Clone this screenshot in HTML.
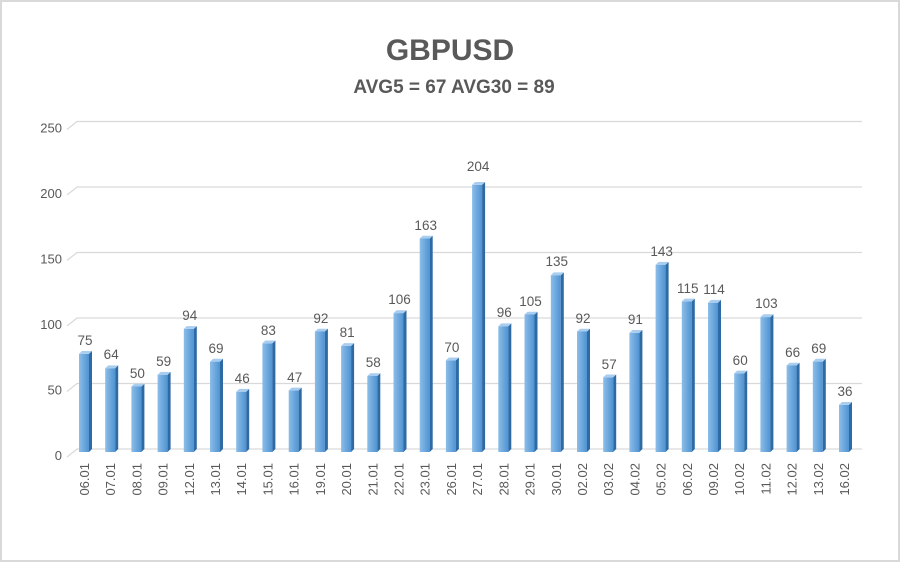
<!DOCTYPE html>
<html><head><meta charset="utf-8"><style>
html,body{margin:0;padding:0;background:#fff}
svg{display:block}
text{font-family:"Liberation Sans",sans-serif;fill:#595959}
</style></head><body>
<svg width="900" height="562" viewBox="0 0 900 562" xmlns="http://www.w3.org/2000/svg">
<defs>
<linearGradient id="fr" x1="0" x2="1" y1="0" y2="0">
<stop offset="0" stop-color="#8cbde8"/><stop offset="1" stop-color="#4f93d2"/>
</linearGradient>
</defs>
<rect x="1" y="1" width="898" height="560" fill="#fff" stroke="#d9d9d9" stroke-width="2"/>
<text x="450" y="60" text-anchor="middle" font-size="30" font-weight="bold">GBPUSD</text>
<text x="454" y="93" text-anchor="middle" font-size="19" font-weight="bold">AVG5 = 67 AVG30 = 89</text>
<g stroke="#d9d9d9" stroke-width="1.2" fill="none">
<path d="M67 457 L77 449 H862"/>
<path d="M67 391.5 L77 383.5 H862"/>
<path d="M67 326 L77 318 H862"/>
<path d="M67 260.5 L77 252.5 H862"/>
<path d="M67 195 L77 187 H862"/>
<path d="M67 129.5 L77 121.5 H862"/>
</g>
<g font-size="13" text-anchor="end">
<text x="62" y="460">0</text>
<text x="62" y="394.5">50</text>
<text x="62" y="329">100</text>
<text x="62" y="263.5">150</text>
<text x="62" y="198">200</text>
<text x="62" y="132.5">250</text>
</g>
<g id="bars"></g>
<g font-size="13.5" text-anchor="middle">
<g transform="translate(84,0)"><rect x="-5" y="353.8" width="10" height="98.2" fill="url(#fr)"/><polygon points="5,353.8 8,351 8,449 5,452" fill="#2e6aa3"/><polygon points="-5,353.8 -2,351 8,351 5,353.8" fill="#a9cdef"/><text x="1" y="345">75</text></g>
<g transform="translate(110.2,0)"><rect x="-5" y="368.2" width="10" height="83.8" fill="url(#fr)"/><polygon points="5,368.2 8,365.4 8,449 5,452" fill="#2e6aa3"/><polygon points="-5,368.2 -2,365.4 8,365.4 5,368.2" fill="#a9cdef"/><text x="1" y="359">64</text></g>
<g transform="translate(136.4,0)"><rect x="-5" y="386.5" width="10" height="65.5" fill="url(#fr)"/><polygon points="5,386.5 8,383.7 8,449 5,452" fill="#2e6aa3"/><polygon points="-5,386.5 -2,383.7 8,383.7 5,386.5" fill="#a9cdef"/><text x="1" y="378">50</text></g>
<g transform="translate(162.6,0)"><rect x="-5" y="374.7" width="10" height="77.3" fill="url(#fr)"/><polygon points="5,374.7 8,371.9 8,449 5,452" fill="#2e6aa3"/><polygon points="-5,374.7 -2,371.9 8,371.9 5,374.7" fill="#a9cdef"/><text x="1" y="366">59</text></g>
<g transform="translate(188.8,0)"><rect x="-5" y="328.9" width="10" height="123.1" fill="url(#fr)"/><polygon points="5,328.9 8,326.1 8,449 5,452" fill="#2e6aa3"/><polygon points="-5,328.9 -2,326.1 8,326.1 5,328.9" fill="#a9cdef"/><text x="1" y="320">94</text></g>
<g transform="translate(215,0)"><rect x="-5" y="361.6" width="10" height="90.4" fill="url(#fr)"/><polygon points="5,361.6 8,358.8 8,449 5,452" fill="#2e6aa3"/><polygon points="-5,361.6 -2,358.8 8,358.8 5,361.6" fill="#a9cdef"/><text x="1" y="353">69</text></g>
<g transform="translate(241.2,0)"><rect x="-5" y="391.7" width="10" height="60.3" fill="url(#fr)"/><polygon points="5,391.7 8,388.9 8,449 5,452" fill="#2e6aa3"/><polygon points="-5,391.7 -2,388.9 8,388.9 5,391.7" fill="#a9cdef"/><text x="1" y="383">46</text></g>
<g transform="translate(267.4,0)"><rect x="-5" y="343.3" width="10" height="108.7" fill="url(#fr)"/><polygon points="5,343.3 8,340.5 8,449 5,452" fill="#2e6aa3"/><polygon points="-5,343.3 -2,340.5 8,340.5 5,343.3" fill="#a9cdef"/><text x="1" y="335">83</text></g>
<g transform="translate(293.7,0)"><rect x="-5" y="390.4" width="10" height="61.6" fill="url(#fr)"/><polygon points="5,390.4 8,387.6 8,449 5,452" fill="#2e6aa3"/><polygon points="-5,390.4 -2,387.6 8,387.6 5,390.4" fill="#a9cdef"/><text x="1" y="382">47</text></g>
<g transform="translate(319.9,0)"><rect x="-5" y="331.5" width="10" height="120.5" fill="url(#fr)"/><polygon points="5,331.5 8,328.7 8,449 5,452" fill="#2e6aa3"/><polygon points="-5,331.5 -2,328.7 8,328.7 5,331.5" fill="#a9cdef"/><text x="1" y="323">92</text></g>
<g transform="translate(346.1,0)"><rect x="-5" y="345.9" width="10" height="106.1" fill="url(#fr)"/><polygon points="5,345.9 8,343.1 8,449 5,452" fill="#2e6aa3"/><polygon points="-5,345.9 -2,343.1 8,343.1 5,345.9" fill="#a9cdef"/><text x="1" y="337">81</text></g>
<g transform="translate(372.3,0)"><rect x="-5" y="376" width="10" height="76" fill="url(#fr)"/><polygon points="5,376 8,373.2 8,449 5,452" fill="#2e6aa3"/><polygon points="-5,376 -2,373.2 8,373.2 5,376" fill="#a9cdef"/><text x="1" y="367">58</text></g>
<g transform="translate(398.5,0)"><rect x="-5" y="313.1" width="10" height="138.9" fill="url(#fr)"/><polygon points="5,313.1 8,310.3 8,449 5,452" fill="#2e6aa3"/><polygon points="-5,313.1 -2,310.3 8,310.3 5,313.1" fill="#a9cdef"/><text x="1" y="304">106</text></g>
<g transform="translate(424.7,0)"><rect x="-5" y="238.5" width="10" height="213.5" fill="url(#fr)"/><polygon points="5,238.5 8,235.7 8,449 5,452" fill="#2e6aa3"/><polygon points="-5,238.5 -2,235.7 8,235.7 5,238.5" fill="#a9cdef"/><text x="1" y="230">163</text></g>
<g transform="translate(450.9,0)"><rect x="-5" y="360.3" width="10" height="91.7" fill="url(#fr)"/><polygon points="5,360.3 8,357.5 8,449 5,452" fill="#2e6aa3"/><polygon points="-5,360.3 -2,357.5 8,357.5 5,360.3" fill="#a9cdef"/><text x="1" y="352">70</text></g>
<g transform="translate(477.1,0)"><rect x="-5" y="184.8" width="10" height="267.2" fill="url(#fr)"/><polygon points="5,184.8 8,182 8,449 5,452" fill="#2e6aa3"/><polygon points="-5,184.8 -2,182 8,182 5,184.8" fill="#a9cdef"/><text x="1" y="171">204</text></g>
<g transform="translate(503.3,0)"><rect x="-5" y="326.2" width="10" height="125.8" fill="url(#fr)"/><polygon points="5,326.2 8,323.4 8,449 5,452" fill="#2e6aa3"/><polygon points="-5,326.2 -2,323.4 8,323.4 5,326.2" fill="#a9cdef"/><text x="1" y="317">96</text></g>
<g transform="translate(529.5,0)"><rect x="-5" y="314.5" width="10" height="137.5" fill="url(#fr)"/><polygon points="5,314.5 8,311.7 8,449 5,452" fill="#2e6aa3"/><polygon points="-5,314.5 -2,311.7 8,311.7 5,314.5" fill="#a9cdef"/><text x="1" y="306">105</text></g>
<g transform="translate(555.8,0)"><rect x="-5" y="275.2" width="10" height="176.8" fill="url(#fr)"/><polygon points="5,275.2 8,272.4 8,449 5,452" fill="#2e6aa3"/><polygon points="-5,275.2 -2,272.4 8,272.4 5,275.2" fill="#a9cdef"/><text x="1" y="266">135</text></g>
<g transform="translate(582,0)"><rect x="-5" y="331.5" width="10" height="120.5" fill="url(#fr)"/><polygon points="5,331.5 8,328.7 8,449 5,452" fill="#2e6aa3"/><polygon points="-5,331.5 -2,328.7 8,328.7 5,331.5" fill="#a9cdef"/><text x="1" y="323">92</text></g>
<g transform="translate(608.2,0)"><rect x="-5" y="377.3" width="10" height="74.7" fill="url(#fr)"/><polygon points="5,377.3 8,374.5 8,449 5,452" fill="#2e6aa3"/><polygon points="-5,377.3 -2,374.5 8,374.5 5,377.3" fill="#a9cdef"/><text x="1" y="369">57</text></g>
<g transform="translate(634.4,0)"><rect x="-5" y="332.8" width="10" height="119.2" fill="url(#fr)"/><polygon points="5,332.8 8,330 8,449 5,452" fill="#2e6aa3"/><polygon points="-5,332.8 -2,330 8,330 5,332.8" fill="#a9cdef"/><text x="1" y="324">91</text></g>
<g transform="translate(660.6,0)"><rect x="-5" y="264.7" width="10" height="187.3" fill="url(#fr)"/><polygon points="5,264.7 8,261.9 8,449 5,452" fill="#2e6aa3"/><polygon points="-5,264.7 -2,261.9 8,261.9 5,264.7" fill="#a9cdef"/><text x="1" y="256">143</text></g>
<g transform="translate(686.8,0)"><rect x="-5" y="301.4" width="10" height="150.6" fill="url(#fr)"/><polygon points="5,301.4 8,298.6 8,449 5,452" fill="#2e6aa3"/><polygon points="-5,301.4 -2,298.6 8,298.6 5,301.4" fill="#a9cdef"/><text x="1" y="293">115</text></g>
<g transform="translate(713,0)"><rect x="-5" y="302.7" width="10" height="149.3" fill="url(#fr)"/><polygon points="5,302.7 8,299.9 8,449 5,452" fill="#2e6aa3"/><polygon points="-5,302.7 -2,299.9 8,299.9 5,302.7" fill="#a9cdef"/><text x="1" y="294">114</text></g>
<g transform="translate(739.2,0)"><rect x="-5" y="373.4" width="10" height="78.6" fill="url(#fr)"/><polygon points="5,373.4 8,370.6 8,449 5,452" fill="#2e6aa3"/><polygon points="-5,373.4 -2,370.6 8,370.6 5,373.4" fill="#a9cdef"/><text x="1" y="365">60</text></g>
<g transform="translate(765.4,0)"><rect x="-5" y="317.1" width="10" height="134.9" fill="url(#fr)"/><polygon points="5,317.1 8,314.3 8,449 5,452" fill="#2e6aa3"/><polygon points="-5,317.1 -2,314.3 8,314.3 5,317.1" fill="#a9cdef"/><text x="1" y="308">103</text></g>
<g transform="translate(791.6,0)"><rect x="-5" y="365.5" width="10" height="86.5" fill="url(#fr)"/><polygon points="5,365.5 8,362.7 8,449 5,452" fill="#2e6aa3"/><polygon points="-5,365.5 -2,362.7 8,362.7 5,365.5" fill="#a9cdef"/><text x="1" y="357">66</text></g>
<g transform="translate(817.8,0)"><rect x="-5" y="361.6" width="10" height="90.4" fill="url(#fr)"/><polygon points="5,361.6 8,358.8 8,449 5,452" fill="#2e6aa3"/><polygon points="-5,361.6 -2,358.8 8,358.8 5,361.6" fill="#a9cdef"/><text x="1" y="353">69</text></g>
<g transform="translate(844,0)"><rect x="-5" y="404.8" width="10" height="47.2" fill="url(#fr)"/><polygon points="5,404.8 8,402 8,449 5,452" fill="#2e6aa3"/><polygon points="-5,404.8 -2,402 8,402 5,404.8" fill="#a9cdef"/><text x="1" y="396">36</text></g>
</g>
<g font-size="13" text-anchor="end">
<text transform="translate(89,463) rotate(-90)">06.01</text>
<text transform="translate(115.2,463) rotate(-90)">07.01</text>
<text transform="translate(141.4,463) rotate(-90)">08.01</text>
<text transform="translate(167.6,463) rotate(-90)">09.01</text>
<text transform="translate(193.8,463) rotate(-90)">12.01</text>
<text transform="translate(220,463) rotate(-90)">13.01</text>
<text transform="translate(246.2,463) rotate(-90)">14.01</text>
<text transform="translate(272.4,463) rotate(-90)">15.01</text>
<text transform="translate(298.7,463) rotate(-90)">16.01</text>
<text transform="translate(324.9,463) rotate(-90)">19.01</text>
<text transform="translate(351.1,463) rotate(-90)">20.01</text>
<text transform="translate(377.3,463) rotate(-90)">21.01</text>
<text transform="translate(403.5,463) rotate(-90)">22.01</text>
<text transform="translate(429.7,463) rotate(-90)">23.01</text>
<text transform="translate(455.9,463) rotate(-90)">26.01</text>
<text transform="translate(482.1,463) rotate(-90)">27.01</text>
<text transform="translate(508.3,463) rotate(-90)">28.01</text>
<text transform="translate(534.5,463) rotate(-90)">29.01</text>
<text transform="translate(560.8,463) rotate(-90)">30.01</text>
<text transform="translate(587,463) rotate(-90)">02.02</text>
<text transform="translate(613.2,463) rotate(-90)">03.02</text>
<text transform="translate(639.4,463) rotate(-90)">04.02</text>
<text transform="translate(665.6,463) rotate(-90)">05.02</text>
<text transform="translate(691.8,463) rotate(-90)">06.02</text>
<text transform="translate(718,463) rotate(-90)">09.02</text>
<text transform="translate(744.2,463) rotate(-90)">10.02</text>
<text transform="translate(770.4,463) rotate(-90)">11.02</text>
<text transform="translate(796.6,463) rotate(-90)">12.02</text>
<text transform="translate(822.8,463) rotate(-90)">13.02</text>
<text transform="translate(849,463) rotate(-90)">16.02</text>
</g>
</svg>
</body></html>
